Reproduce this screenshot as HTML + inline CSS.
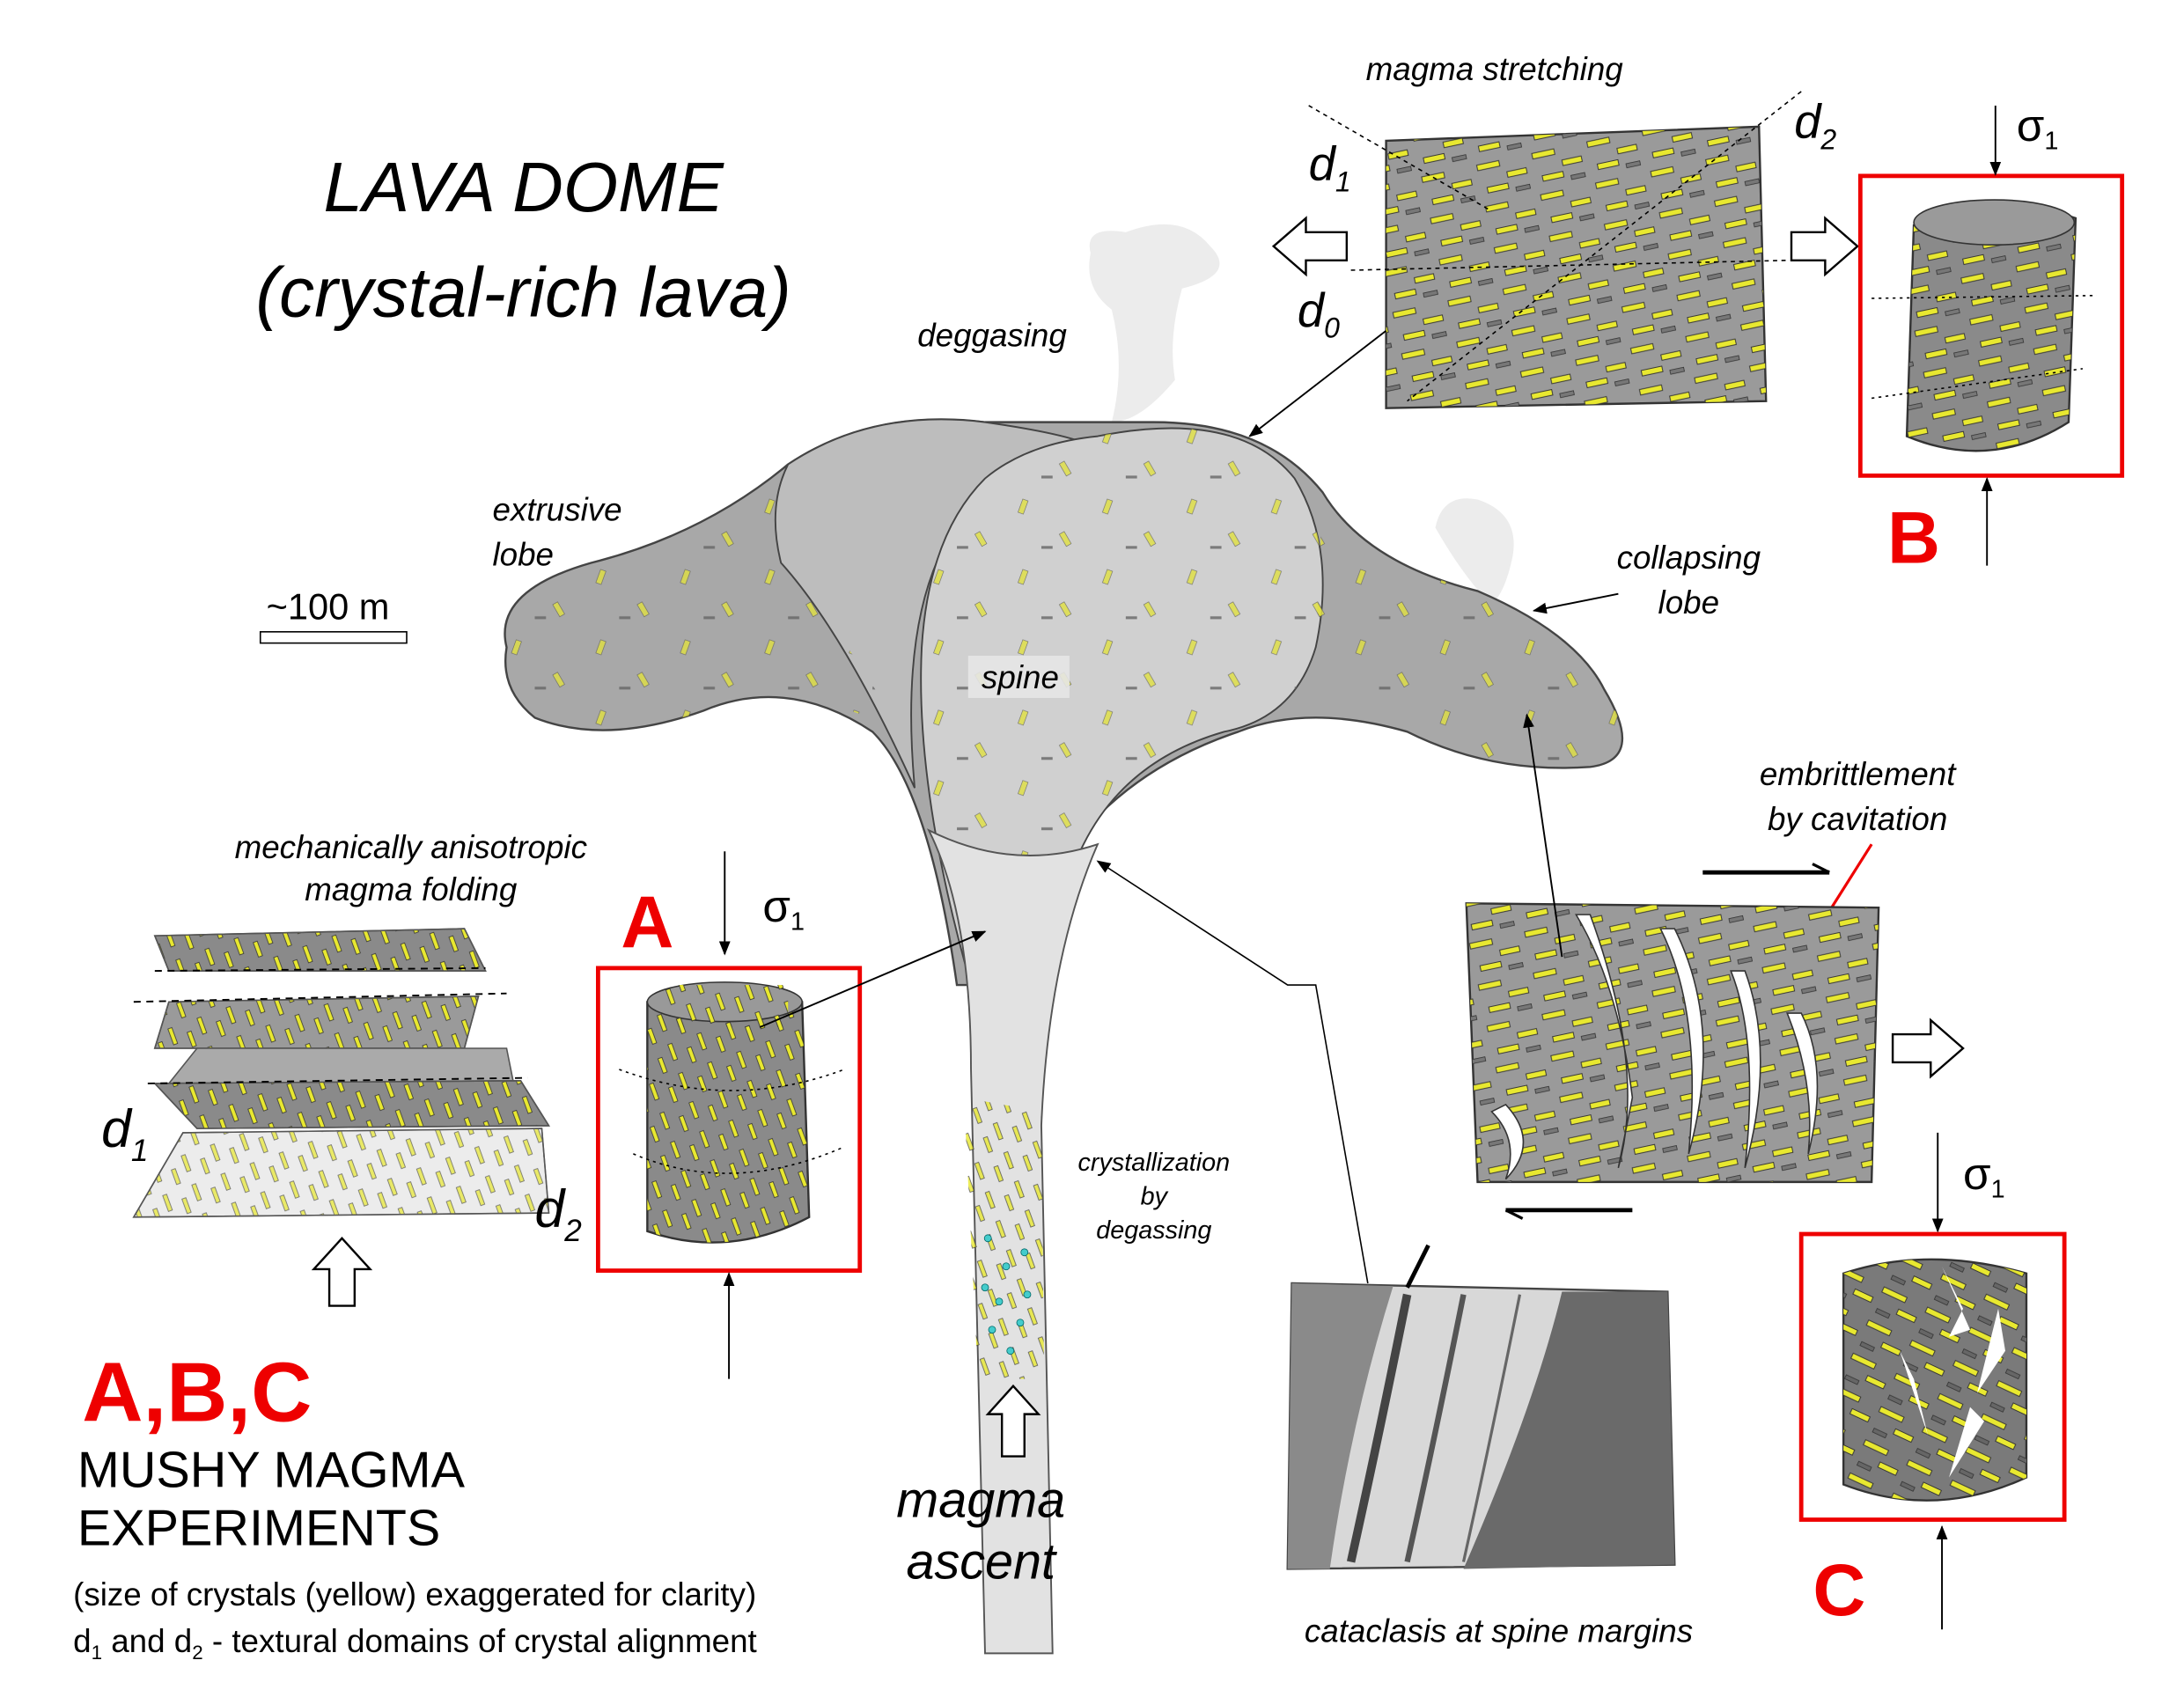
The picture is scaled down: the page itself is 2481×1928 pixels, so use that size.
<!DOCTYPE html>
<html><head><meta charset="utf-8"><style>
html,body{margin:0;padding:0;background:#fff}
svg{display:block}
text{font-family:"Liberation Sans",sans-serif}
.it{font-style:italic}
</style></head><body>
<svg width="2481" height="1928" viewBox="0 0 1552 1206" xmlns="http://www.w3.org/2000/svg">
<defs>
<pattern id="cr" width="40" height="30" patternUnits="userSpaceOnUse" patternTransform="rotate(-12)">
<rect x="2" y="3" width="16" height="4" fill="#e8e830" stroke="#333" stroke-width="0.6"/>
<rect x="22" y="12" width="14" height="4" fill="#e8e830" stroke="#333" stroke-width="0.6"/>
<rect x="6" y="20" width="15" height="4" fill="#e8e830" stroke="#333" stroke-width="0.6"/>
<rect x="26" y="24" width="10" height="3" fill="#777" stroke="#333" stroke-width="0.5"/>
</pattern>
<pattern id="cr2" width="34" height="26" patternUnits="userSpaceOnUse" patternTransform="rotate(25)">
<rect x="2" y="3" width="18" height="4" fill="#e8e830" stroke="#333" stroke-width="0.6"/>
<rect x="18" y="13" width="14" height="4" fill="#e8e830" stroke="#333" stroke-width="0.6"/>
<rect x="4" y="19" width="10" height="3" fill="#666" stroke="#333" stroke-width="0.5"/>
</pattern>
<pattern id="cv" width="22" height="22" patternUnits="userSpaceOnUse" patternTransform="rotate(70)">
<rect x="2" y="3" width="12" height="3" fill="#e8e830" stroke="#333" stroke-width="0.5"/>
<rect x="9" y="13" width="11" height="3" fill="#e8e830" stroke="#333" stroke-width="0.5"/>
</pattern>
<pattern id="sp" width="60" height="50" patternUnits="userSpaceOnUse">
<rect x="5" y="5" width="4" height="10" fill="#e0e040" stroke="#555" stroke-width="0.4" transform="rotate(20 7 10)"/>
<rect x="35" y="28" width="4" height="10" fill="#e0e040" stroke="#555" stroke-width="0.4" transform="rotate(-30 37 33)"/>
<rect x="20" y="38" width="8" height="2" fill="#666"/>
</pattern>
<marker id="ah" markerWidth="10" markerHeight="10" refX="9" refY="5" orient="auto" markerUnits="userSpaceOnUse"><path d="M0,1 L10,5 L0,9 z" fill="#000"/></marker>
<marker id="ahr" markerWidth="12" markerHeight="12" refX="11" refY="6" orient="auto" markerUnits="userSpaceOnUse"><path d="M0,1 L12,6 L0,11 z" fill="#e00"/></marker>
</defs>

<text x="372" y="150" font-size="50" class="it" text-anchor="middle">LAVA DOME</text>
<text x="372" y="225" font-size="50" class="it" text-anchor="middle">(crystal-rich lava)</text>
<text x="705" y="246" font-size="23" class="it" text-anchor="middle">deggasing</text>
<text x="1062" y="57" font-size="23" class="it" text-anchor="middle">magma stretching</text>

<path d="M775,180 Q770,160 800,165 Q840,150 860,175 Q880,195 840,205 Q830,240 835,270 Q810,300 790,300 Q800,260 790,220 Q770,205 775,180z" fill="#ececec"/>
<path d="M1020,375 Q1025,350 1050,355 Q1080,365 1075,395 Q1070,420 1060,430 Q1040,410 1020,375z" fill="#ececec"/>

<path d="M360,460 Q350,420 420,400 Q500,380 560,330 Q620,290 700,300 Q780,300 820,300 Q900,300 940,350 Q970,400 1050,420 Q1120,450 1140,490 Q1170,540 1130,545 Q1060,550 1000,520 Q930,500 880,520 Q820,540 780,580 Q745,620 720,700 L680,700 Q660,560 620,520 Q560,480 500,505 Q430,530 380,510 Q355,490 360,460z" fill="#a8a8a8" stroke="#444" stroke-width="1.5"/>
<path d="M560,330 Q620,290 700,300 Q770,310 780,320 Q700,330 670,390 Q640,450 650,560 Q600,450 555,400 Q545,360 560,330z" fill="#bdbdbd" stroke="#444" stroke-width="1.2"/>
<path d="M780,310 Q880,290 920,340 Q950,390 935,460 Q920,510 870,520 Q800,540 770,600 Q745,650 720,700 L690,700 Q650,560 655,460 Q660,380 700,340 Q730,315 780,310z" fill="#d0d0d0" stroke="#444" stroke-width="1.2"/>
<path d="M360,460 Q350,420 420,400 Q500,380 560,330 L555,400 Q600,450 640,520 Q560,480 500,505 Q430,530 380,510 Q355,490 360,460z" fill="url(#sp)" opacity="0.8"/>
<path d="M700,340 Q660,380 655,460 Q650,560 690,700 L720,700 Q745,620 770,600 Q800,540 870,520 Q920,510 935,460 Q950,390 920,340 Q880,290 780,310 Q730,315 700,340z" fill="url(#sp)" opacity="0.8"/>
<path d="M940,350 Q970,400 1050,420 Q1120,450 1140,490 Q1170,540 1130,545 Q1060,550 1000,520 Q960,500 935,460z" fill="url(#sp)" opacity="0.8"/>
<rect x="688" y="466" width="72" height="30" fill="#e6e6e6" opacity="0.9"/>
<text x="725" y="489" font-size="23" class="it" text-anchor="middle">spine</text>

<path d="M660,590 Q690,650 690,760 L700,1175 L748,1175 L740,800 Q745,680 780,600 Q720,620 660,590z" fill="#e2e2e2" stroke="#555" stroke-width="1.2"/>
<path d="M685,780 L740,790 L742,980 L695,980z" fill="url(#cv)" opacity="0.8"/>
<g fill="#4cc" stroke="#066" stroke-width="0.5">
<circle cx="702" cy="880" r="2.5"/><circle cx="715" cy="900" r="2.5"/><circle cx="728" cy="890" r="2.5"/><circle cx="710" cy="925" r="2.5"/><circle cx="725" cy="940" r="2.5"/><circle cx="700" cy="915" r="2.5"/><circle cx="718" cy="960" r="2.5"/><circle cx="730" cy="920" r="2.5"/><circle cx="705" cy="945" r="2.5"/>
</g>

<text x="350" y="370" font-size="23" class="it">extrusive</text>
<text x="350" y="402" font-size="23" class="it">lobe</text>
<text x="233" y="440" font-size="26" text-anchor="middle">~100 m</text>
<rect x="185" y="449" width="104" height="8" fill="#fff" stroke="#000" stroke-width="1"/>
<text x="1200" y="404" font-size="23" class="it" text-anchor="middle">collapsing</text>
<text x="1200" y="436" font-size="23" class="it" text-anchor="middle">lobe</text>
<line x1="1150" y1="422" x2="1090" y2="434" stroke="#000" stroke-width="1.2" marker-end="url(#ah)"/>
<text x="1320" y="558" font-size="23" class="it" text-anchor="middle">embrittlement</text>
<text x="1320" y="590" font-size="23" class="it" text-anchor="middle">by cavitation</text>
<line x1="1330" y1="600" x2="1270" y2="695" stroke="#e00" stroke-width="2" marker-end="url(#ahr)"/>
<text x="820" y="832" font-size="18" class="it" text-anchor="middle">crystallization</text>
<text x="820" y="856" font-size="18" class="it" text-anchor="middle">by</text>
<text x="820" y="880" font-size="18" class="it" text-anchor="middle">degassing</text>
<text x="697" y="1078" font-size="36" class="it" text-anchor="middle">magma</text>
<text x="697" y="1122" font-size="36" class="it" text-anchor="middle">ascent</text>
<path d="M720,985 L738,1005 L728,1005 L728,1035 L712,1035 L712,1005 L702,1005z" fill="#fff" stroke="#000" stroke-width="1.5"/>

<path d="M985,100 L1250,90 L1255,285 L985,290z" fill="#9a9a9a" stroke="#333" stroke-width="1.5"/>
<path d="M985,100 L1250,90 L1255,285 L985,290z" fill="url(#cr)"/>
<line x1="930" y1="75" x2="1060" y2="150" stroke="#000" stroke-dasharray="3,3"/>
<line x1="1280" y1="65" x2="1000" y2="285" stroke="#000" stroke-dasharray="3,3"/>
<line x1="960" y1="192" x2="1270" y2="185" stroke="#000" stroke-dasharray="3,3"/>
<text x="930" y="128" font-size="34" class="it">d<tspan font-size="20" dy="8">1</tspan></text>
<text x="1275" y="98" font-size="34" class="it">d<tspan font-size="20" dy="8">2</tspan></text>
<text x="922" y="232" font-size="34" class="it">d<tspan font-size="20" dy="8">0</tspan></text>
<path d="M905,175 L928,155 L928,165 L957,165 L957,185 L928,185 L928,195z" fill="#fff" stroke="#000" stroke-width="1.5"/>
<path d="M1320,175 L1297,155 L1297,165 L1273,165 L1273,185 L1297,185 L1297,195z" fill="#fff" stroke="#000" stroke-width="1.5"/>
<line x1="985" y1="235" x2="888" y2="310" stroke="#000" stroke-width="1.2" marker-end="url(#ah)"/>

<rect x="1322" y="125" width="186" height="213" fill="none" stroke="#e00" stroke-width="3"/>
<path d="M1360,160 Q1415,135 1475,155 L1470,300 Q1415,335 1355,310z" fill="#8a8a8a" stroke="#333" stroke-width="1.5"/>
<path d="M1360,160 Q1415,135 1475,155 L1470,300 Q1415,335 1355,310z" fill="url(#cr)"/>
<ellipse cx="1417" cy="158" rx="57" ry="16" fill="#9a9a9a" stroke="#333"/>
<line x1="1330" y1="212" x2="1490" y2="210" stroke="#000" stroke-dasharray="2,3"/>
<line x1="1330" y1="283" x2="1480" y2="262" stroke="#000" stroke-dasharray="2,3"/>
<text x="1433" y="100" font-size="32">σ<tspan font-size="18" dy="6">1</tspan></text>
<line x1="1418" y1="75" x2="1418" y2="124" stroke="#000" stroke-width="1.2" marker-end="url(#ah)"/>
<line x1="1412" y1="402" x2="1412" y2="340" stroke="#000" stroke-width="1.2" marker-end="url(#ah)"/>
<text x="1360" y="400" font-size="52" font-weight="bold" fill="#e00" text-anchor="middle">B</text>

<path d="M1042,642 L1335,645 L1330,840 L1050,840z" fill="#9a9a9a" stroke="#333" stroke-width="1.5"/>
<path d="M1042,642 L1335,645 L1330,840 L1050,840z" fill="url(#cr)"/>
<g fill="#fff" stroke="#333" stroke-width="1">
<path d="M1120,650 Q1150,700 1160,780 L1150,830 Q1170,760 1130,650z"/>
<path d="M1180,660 Q1210,720 1200,820 Q1225,730 1190,660z"/>
<path d="M1230,690 Q1250,740 1240,830 Q1262,750 1240,690z"/>
<path d="M1270,720 Q1290,770 1285,820 Q1300,760 1280,720z"/>
<path d="M1060,790 Q1080,810 1070,838 Q1095,812 1070,785z"/>
</g>
<line x1="1210" y1="620" x2="1300" y2="620" stroke="#000" stroke-width="3"/>
<path d="M1300,620 L1288,614" stroke="#000" stroke-width="2"/>
<line x1="1070" y1="860" x2="1160" y2="860" stroke="#000" stroke-width="3"/>
<path d="M1070,860 L1082,866" stroke="#000" stroke-width="2"/>
<path d="M1395,745 L1372,725 L1372,735 L1345,735 L1345,755 L1372,755 L1372,765z" fill="#fff" stroke="#000" stroke-width="1.5"/>
<line x1="1110" y1="680" x2="1085" y2="508" stroke="#000" stroke-width="1.2" marker-end="url(#ah)"/>

<rect x="1280" y="877" width="187" height="203" fill="none" stroke="#e00" stroke-width="3"/>
<path d="M1310,905 Q1370,885 1440,905 L1440,1050 Q1375,1080 1310,1055z" fill="#7a7a7a" stroke="#333" stroke-width="1.5"/>
<path d="M1310,905 Q1370,885 1440,905 L1440,1050 Q1375,1080 1310,1055z" fill="url(#cr2)"/>
<g fill="#fff"><path d="M1380,900 L1395,930 L1385,950 L1400,945z"/><path d="M1420,930 L1405,990 L1425,960z"/><path d="M1350,960 L1370,1020 L1360,980z"/><path d="M1400,1000 L1385,1050 L1410,1010z"/></g>
<text x="1395" y="845" font-size="32">σ<tspan font-size="18" dy="6">1</tspan></text>
<line x1="1377" y1="805" x2="1377" y2="875" stroke="#000" stroke-width="1.2" marker-end="url(#ah)"/>
<line x1="1380" y1="1158" x2="1380" y2="1085" stroke="#000" stroke-width="1.2" marker-end="url(#ah)"/>
<text x="1307" y="1148" font-size="52" font-weight="bold" fill="#e00" text-anchor="middle">C</text>

<path d="M918,912 L1185,918 L1190,1112 L915,1115z" fill="#d8d8d8" stroke="#444" stroke-width="1.5"/>
<path d="M1110,918 L1185,918 L1190,1112 L1040,1115 Q1090,1000 1110,918z" fill="#6a6a6a"/>
<path d="M918,912 L990,914 Q960,1010 945,1115 L915,1115z" fill="#8a8a8a"/>
<path d="M1000,920 Q980,1020 960,1110" stroke="#444" stroke-width="6" fill="none"/>
<path d="M1040,920 Q1020,1020 1000,1110" stroke="#555" stroke-width="4" fill="none"/>
<path d="M1080,920 Q1060,1020 1040,1110" stroke="#666" stroke-width="2" fill="none"/>
<path d="M1000,915 L1015,885" stroke="#000" stroke-width="3"/>
<text x="1065" y="1167" font-size="23" class="it" text-anchor="middle">cataclasis at spine margins</text>
<polyline points="972,912 935,700 915,700 780,612" fill="none" stroke="#000" stroke-width="1" marker-end="url(#ah)"/>

<rect x="425" y="688" width="186" height="215" fill="none" stroke="#e00" stroke-width="3"/>
<path d="M460,712 Q515,695 570,712 L575,865 Q518,895 460,875z" fill="#8a8a8a" stroke="#333" stroke-width="1.5"/>
<path d="M460,712 Q515,695 570,712 L575,865 Q518,895 460,875z" fill="url(#cv)"/>
<ellipse cx="515" cy="712" rx="55" ry="14" fill="#999" stroke="#333"/>
<rect x="470" y="700" width="90" height="30" fill="url(#cv)"/>
<path d="M440,760 Q520,790 600,760" fill="none" stroke="#000" stroke-dasharray="2,3"/>
<path d="M450,820 Q520,850 600,815" fill="none" stroke="#000" stroke-dasharray="2,3"/>
<text x="542" y="655" font-size="32">σ<tspan font-size="18" dy="6">1</tspan></text>
<line x1="515" y1="605" x2="515" y2="678" stroke="#000" stroke-width="1.2" marker-end="url(#ah)"/>
<line x1="518" y1="980" x2="518" y2="905" stroke="#000" stroke-width="1.2" marker-end="url(#ah)"/>
<text x="460" y="673" font-size="52" font-weight="bold" fill="#e00" text-anchor="middle">A</text>
<line x1="540" y1="730" x2="700" y2="662" stroke="#000" stroke-width="1.2" marker-end="url(#ah)"/>

<text x="292" y="610" font-size="23" class="it" text-anchor="middle">mechanically anisotropic</text>
<text x="292" y="640" font-size="23" class="it" text-anchor="middle">magma folding</text>
<g stroke="#555" stroke-width="1">
<path d="M110,665 L330,660 L345,690 L120,690z" fill="#8a8a8a"/>
<path d="M110,665 L330,660 L345,690 L120,690z" fill="url(#cv)"/>
<path d="M120,712 L340,708 L330,745 L110,745z" fill="#9a9a9a"/>
<path d="M120,712 L340,708 L330,745 L110,745z" fill="url(#cv)"/>
<path d="M140,745 L360,745 L365,770 L120,770z" fill="#aaa"/>
<path d="M110,770 L370,768 L390,800 L140,802z" fill="#8a8a8a"/>
<path d="M110,770 L370,768 L390,800 L140,802z" fill="url(#cv)"/>
<path d="M130,805 L385,802 L390,862 L95,865z" fill="#ececec"/>
<path d="M130,805 L385,802 L390,862 L95,865z" fill="url(#cv)" opacity="0.7"/>
</g>
<g stroke="#000" stroke-dasharray="5,4" stroke-width="1.2">
<line x1="95" y1="712" x2="360" y2="706"/><line x1="105" y1="770" x2="375" y2="766"/><line x1="110" y1="690" x2="345" y2="688"/>
</g>
<text x="72" y="815" font-size="38" class="it">d<tspan font-size="22" dy="10">1</tspan></text>
<text x="380" y="872" font-size="38" class="it">d<tspan font-size="22" dy="10">2</tspan></text>
<path d="M243,880 L263,902 L252,902 L252,928 L234,928 L234,902 L223,902z" fill="#fff" stroke="#000" stroke-width="1.5"/>

<text x="140" y="1010" font-size="60" font-weight="bold" fill="#e00" text-anchor="middle">A,B,C</text>
<text x="55" y="1057" font-size="36">MUSHY MAGMA</text>
<text x="55" y="1098" font-size="36">EXPERIMENTS</text>
<text x="52" y="1141" font-size="23">(size of crystals (yellow) exaggerated for clarity)</text>
<text x="52" y="1174" font-size="23">d<tspan font-size="14" dy="5">1</tspan><tspan dy="-5"> and d</tspan><tspan font-size="14" dy="5">2</tspan><tspan dy="-5"> - textural domains of crystal alignment</tspan></text>
</svg>
</body></html>
